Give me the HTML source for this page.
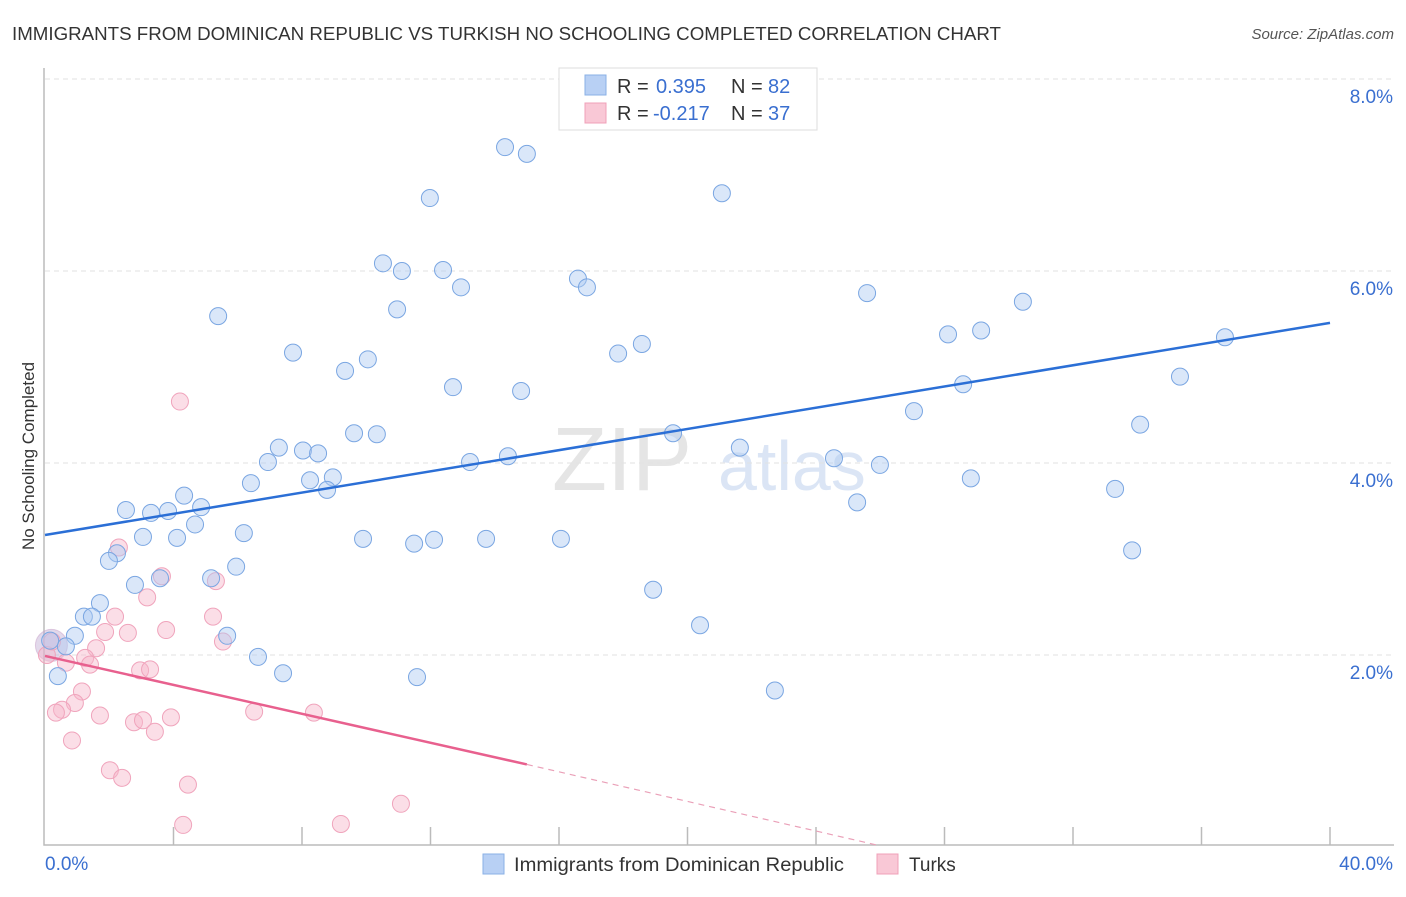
<!DOCTYPE html>
<html><head><meta charset="utf-8"><style>
body{margin:0;background:#fff;font-family:"Liberation Sans",sans-serif;}
svg text{font-family:"Liberation Sans",sans-serif;}
</style></head><body>
<svg id="chart" width="1406" height="892" xmlns="http://www.w3.org/2000/svg">
<text x="12" y="40" font-size="18" fill="#333" textLength="989" lengthAdjust="spacingAndGlyphs">IMMIGRANTS FROM DOMINICAN REPUBLIC VS TURKISH NO SCHOOLING COMPLETED CORRELATION CHART</text>
<text x="1394" y="39" font-size="15" fill="#555" text-anchor="end" font-style="italic">Source: ZipAtlas.com</text>
<text transform="translate(34,456) rotate(-90)" font-size="17" fill="#333" text-anchor="middle">No Schooling Completed</text>
<g opacity="0.5"><text x="552" y="490" font-size="90" fill="#ccc" font-family="Liberation Serif">ZIP</text><text x="718" y="490" font-size="70" fill="#b8cdec">atlas</text></g>
<g id="grid"></g><g id="axes"></g><g id="pts"></g><g id="trends"></g>
<g>
<rect x="559" y="68" width="258" height="62" fill="#fff" stroke="#ddd"/>
<rect x="585" y="75" width="21" height="20" fill="#b8d0f4" stroke="#8ab0e6"/>
<rect x="585" y="103" width="21" height="20" fill="#f9c8d6" stroke="#f0a0b8"/>
<text x="617" y="93" font-size="20" fill="#333">R = </text><text x="656" y="93" font-size="20" fill="#3a6fd0">0.395</text>
<text x="731" y="93" font-size="20" fill="#333">N = </text><text x="768" y="93" font-size="20" fill="#3a6fd0">82</text>
<text x="617" y="120" font-size="20" fill="#333">R = </text><text x="653" y="120" font-size="20" fill="#3a6fd0">-0.217</text>
<text x="731" y="120" font-size="20" fill="#333">N = </text><text x="768" y="120" font-size="20" fill="#3a6fd0">37</text>
</g>
<g>
<rect x="483" y="854" width="21" height="20" fill="#b8d0f4" stroke="#8ab0e6"/>
<text x="514" y="871" font-size="19" fill="#333" textLength="330" lengthAdjust="spacingAndGlyphs">Immigrants from Dominican Republic</text>
<rect x="877" y="854" width="21" height="20" fill="#f9c8d6" stroke="#f0a0b8"/>
<text x="909" y="871" font-size="19" fill="#333">Turks</text>
</g>
</svg>
<script>
const yTicks=[2,4,6,8];
const yTickLabels=["2.0%","4.0%","6.0%","8.0%"];
const blueX=[14.32,15.00,11.98,21.07,10.52,11.11,12.39,12.95,16.59,16.87,5.39,10.96,25.59,30.44,7.72,10.05,9.34,17.84,18.58,28.11,29.14,36.73,12.70,14.82,35.33,28.58,27.05,34.09,9.62,10.33,19.55,21.63,7.28,8.03,8.50,6.94,13.23,14.41,24.56,25.99,6.41,8.25,8.96,8.78,28.82,33.31,4.33,4.86,2.52,3.30,3.83,4.67,25.28,6.19,3.05,4.11,9.90,11.49,12.11,13.73,16.06,33.84,2.24,1.99,5.95,3.58,2.80,5.17,18.93,1.71,1.21,1.46,0.93,5.67,0.65,20.39,6.63,7.41,11.58,22.72,0.40,0.16];
const blueY=[7.29,7.22,6.76,6.81,6.08,6.00,6.01,5.83,5.92,5.83,5.53,5.60,5.77,5.68,5.15,5.08,4.96,5.14,5.24,5.34,5.38,5.31,4.79,4.75,4.90,4.82,4.54,4.40,4.31,4.30,4.31,4.16,4.16,4.13,4.10,4.01,4.01,4.07,4.05,3.98,3.79,3.82,3.85,3.72,3.84,3.73,3.66,3.54,3.51,3.48,3.50,3.36,3.59,3.27,3.23,3.22,3.21,3.16,3.20,3.21,3.21,3.09,3.06,2.98,2.92,2.80,2.73,2.80,2.68,2.54,2.40,2.40,2.20,2.20,2.09,2.31,1.98,1.81,1.77,1.63,1.78,2.15];
const pinkX=[4.20,2.30,3.64,5.32,3.18,5.23,2.18,1.87,2.58,3.77,5.54,1.59,1.25,0.65,0.06,0.22,1.40,2.96,3.27,1.15,0.93,0.53,0.34,1.71,2.77,3.05,3.92,3.42,6.51,8.37,0.84,2.02,2.40,4.45,11.08,4.30,9.21];
const pinkY=[4.64,3.12,2.82,2.77,2.60,2.40,2.40,2.24,2.23,2.26,2.14,2.07,1.97,1.92,2.00,2.14,1.90,1.84,1.85,1.62,1.50,1.43,1.40,1.37,1.30,1.32,1.35,1.20,1.41,1.40,1.11,0.80,0.72,0.65,0.45,0.23,0.24];
const blueTrend=[[0,3.25],[40,5.46]];
const pinkTrend=[[0,1.99],[15,0.86]];
const pinkTrendDash=[[15,0.86],[25.9,0.02]];
const NS="http://www.w3.org/2000/svg";
const xs=v=>45+v*32.125, ys=v=>847-v*96;
function mk(tag,attrs,parent){const e=document.createElementNS(NS,tag);for(const k in attrs)e.setAttribute(k,attrs[k]);document.getElementById(parent).appendChild(e);return e;}
yTicks.forEach((t,i)=>{
 const g=mk('line',{x1:45,x2:1394,y1:ys(t),y2:ys(t),stroke:'#e2e2e2','stroke-dasharray':'5,4'},'grid');
 
 
 const l=mk('text',{x:1393,y:ys(t)+24,'font-size':19,fill:'#3a6fd0','text-anchor':'end'},'grid');
 l.textContent=yTickLabels[i];
 
 
});
const ax=mk('path',{d:'M44,68 V845 H1394',fill:'none',stroke:'#bbb','stroke-width':1.5},'axes');


for(let i=1;i<=10;i++){const t=mk('line',{x1:xs(i*4),x2:xs(i*4),y1:827,y2:845,stroke:'#bbb','stroke-width':1.5},'axes');
 
 }
const x0=mk('text',{x:45,y:870,'font-size':19,fill:'#3a6fd0'},'axes');x0.textContent='0.0%';


const x1=mk('text',{x:1393,y:870,'font-size':19,fill:'#3a6fd0','text-anchor':'end'},'axes');x1.textContent='40.0%';


mk('circle',{cx:xs(0.2),cy:ys(2.1),r:16,fill:'rgba(190,170,210,0.45)',stroke:'rgba(200,160,200,0.5)'},'pts');
pinkX.forEach((x,i)=>{const c=mk('circle',{cx:xs(x),cy:ys(pinkY[i]),r:8.5,fill:'rgba(246,182,202,0.45)',stroke:'#f0a4bc','stroke-width':1},'pts');
 
 });
blueX.forEach((x,i)=>{const c=mk('circle',{cx:xs(x),cy:ys(blueY[i]),r:8.5,fill:'rgba(172,202,242,0.45)',stroke:'#7aa6e2','stroke-width':1},'pts');
 
 });
function ln(p,st,dash,w,name){const l=mk('line',{x1:xs(p[0][0]),y1:ys(p[0][1]),x2:xs(p[1][0]),y2:ys(p[1][1]),stroke:st,'stroke-width':w},'trends');if(dash)l.setAttribute('stroke-dasharray',dash);
 
 }
ln(blueTrend,'#2b6fd6',null,2.5,'dominican-trend-line');
ln(pinkTrend,'#e8608e',null,2.5,'turks-trend-line');
ln(pinkTrendDash,'#eaa0b8','6,5',1.2,'turks-trend-extension');
</script>
</body></html>
